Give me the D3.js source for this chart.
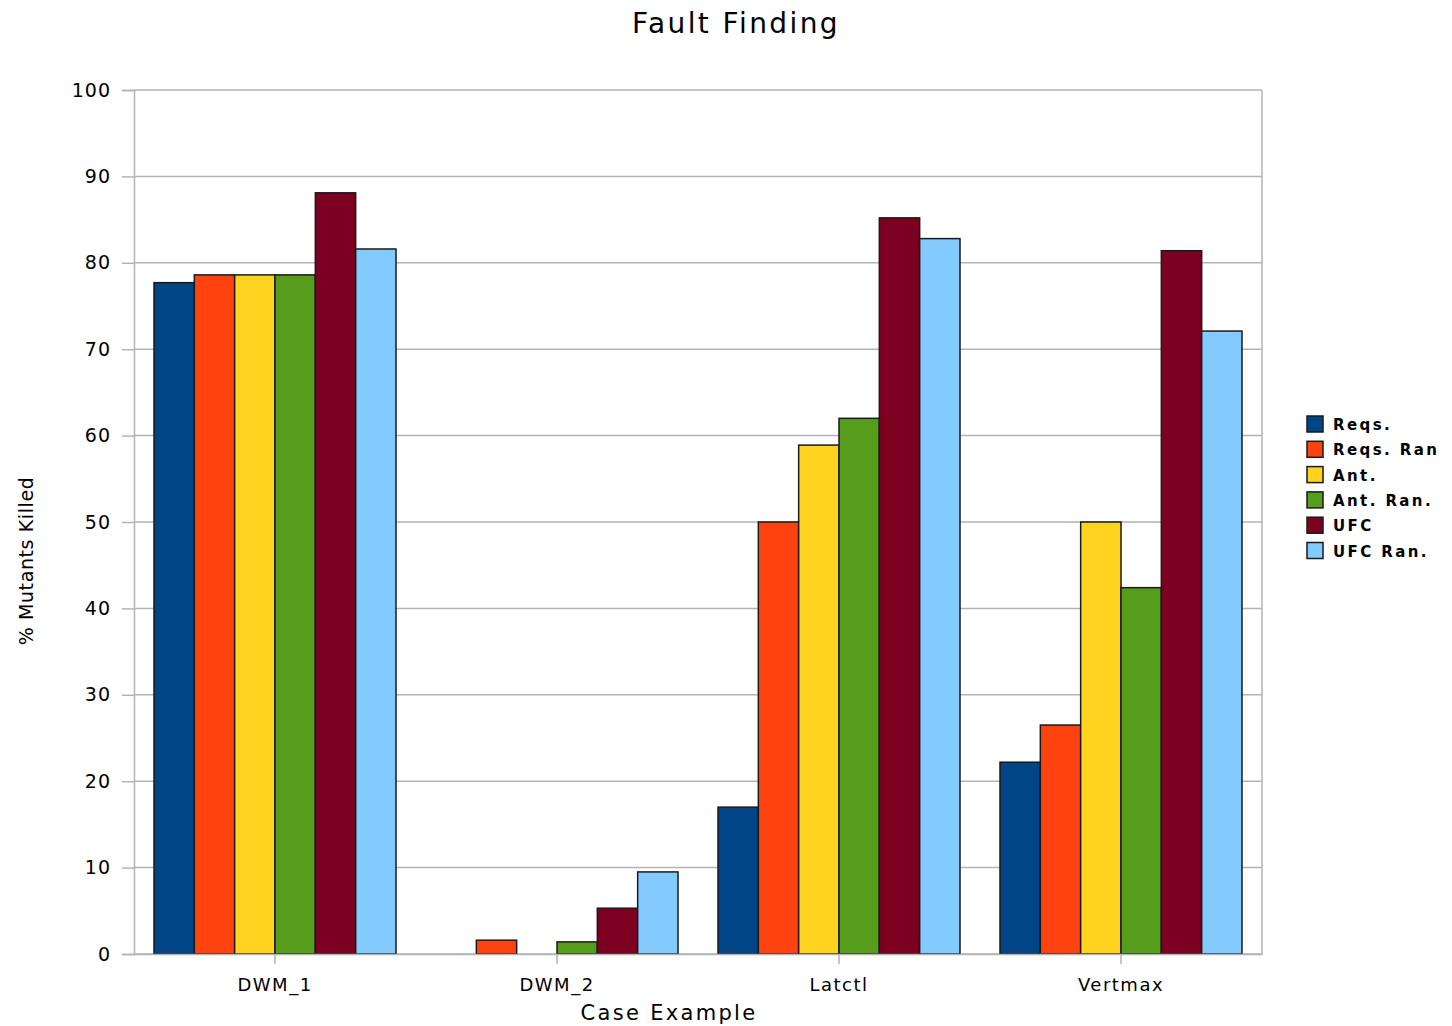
<!DOCTYPE html>
<html>
<head>
<meta charset="utf-8">
<script src="https://cdn.jsdelivr.net/npm/d3@7"></script>
<style>
  html, body { margin: 0; padding: 0; background: #fff; }
  svg { display: block; }
  text { font-family: "DejaVu Sans", Verdana, sans-serif; fill: #000; }
</style>
</head>
<body>
<svg id="chart" width="1452" height="1026"></svg>
<script>
// Case examples along the x axis
const categories = ["DWM_1", "DWM_2", "Latctl", "Vertmax"];
// Test-suite series
const seriesNames = ["Reqs.", "Reqs. Ran", "Ant.", "Ant. Ran.", "UFC", "UFC Ran."];
// % mutants killed, one array per series (same order as categories)
const reqs     = [77.7, 0,   17.0, 22.2];
const reqsRan  = [78.6, 1.6, 50.0, 26.5];
const ant      = [78.6, 0,   58.9, 50.0];
const antRan   = [78.6, 1.4, 62.0, 42.4];
const ufc      = [88.1, 5.3, 85.2, 81.4];
const ufcRan   = [81.6, 9.5, 82.8, 72.1];
const yTicks   = [0, 10, 20, 30, 40, 50, 60, 70, 80, 90, 100];
const colors   = ["#004586", "#ff420e", "#ffd320", "#579d1c", "#7e0021", "#83caff"];

const seriesValues = [reqs, reqsRan, ant, antRan, ufc, ufcRan];
const rows = categories.map((c, i) => ({
  category: c,
  values: seriesNames.map((s, k) => ({ series: s, value: seriesValues[k][i], color: colors[k] }))
}));

const svg = d3.select("#chart");
const plot = { left: 134, top: 90, right: 1262, bottom: 954 };

const x = d3.scaleBand().domain(categories).range([plot.left, plot.right]).paddingInner(0).paddingOuter(0);
const inner = d3.scaleBand().domain(seriesNames).range([20, x.bandwidth() - 20]).padding(0);
const y = d3.scaleLinear().domain([0, 100]).range([plot.bottom, plot.top]);

// Horizontal gridlines
svg.append("g")
  .selectAll("line")
  .data(yTicks)
  .join("line")
  .attr("x1", plot.left).attr("x2", plot.right)
  .attr("y1", d => y(d)).attr("y2", d => y(d))
  .attr("stroke", "#b3b3b3").attr("stroke-width", 1.5);

// Right frame edge
svg.append("line")
  .attr("x1", plot.right).attr("x2", plot.right)
  .attr("y1", plot.top).attr("y2", plot.bottom)
  .attr("stroke", "#b3b3b3").attr("stroke-width", 1.5);

// Bars
const groups = svg.append("g")
  .selectAll("g")
  .data(rows)
  .join("g")
  .attr("transform", d => `translate(${x(d.category)},0)`);

groups.selectAll("rect")
  .data(d => d.values.filter(v => v.value > 0))
  .join("rect")
  .attr("x", d => inner(d.series))
  .attr("y", d => y(d.value))
  .attr("width", inner.bandwidth())
  .attr("height", d => y(0) - y(d.value))
  .attr("fill", d => d.color)
  .attr("stroke", "#1a1a1a")
  .attr("stroke-width", 1.5);

// Y axis
const yAxis = svg.append("g")
  .attr("transform", `translate(${plot.left},0)`)
  .call(d3.axisLeft(y).tickValues(yTicks).tickSize(12).tickPadding(11));
yAxis.select(".domain").attr("stroke", "#b3b3b3").attr("stroke-width", 1.5);
yAxis.selectAll(".tick line").attr("stroke", "#b3b3b3").attr("stroke-width", 1.5);
yAxis.selectAll(".tick text")
  .style("font-family", "'DejaVu Sans', Verdana, sans-serif")
  .style("font-size", "19px")
  .style("letter-spacing", "1px")
  .attr("fill", "#000");

// X axis
const xAxis = svg.append("g")
  .attr("transform", `translate(0,${plot.bottom})`)
  .call(d3.axisBottom(x).tickSize(10).tickPadding(14).tickSizeOuter(0));
xAxis.select(".domain").attr("stroke", "#b3b3b3").attr("stroke-width", 1.5);
xAxis.selectAll(".tick line").attr("stroke", "#b3b3b3").attr("stroke-width", 1.5);
xAxis.selectAll(".tick text")
  .style("font-family", "'DejaVu Sans', Verdana, sans-serif")
  .style("font-size", "18px")
  .style("letter-spacing", "1.5px")
  .attr("fill", "#000");

// Title
svg.append("text")
  .attr("x", 736).attr("y", 33)
  .attr("text-anchor", "middle")
  .style("font-size", "28px")
  .style("letter-spacing", "2.4px")
  .text("Fault Finding");

// Axis titles
svg.append("text")
  .attr("x", 669).attr("y", 1020)
  .attr("text-anchor", "middle")
  .style("font-size", "21px")
  .style("letter-spacing", "2.3px")
  .text("Case Example");

svg.append("text")
  .attr("transform", "translate(33,561) rotate(-90)")
  .attr("text-anchor", "middle")
  .style("font-size", "19px")
  .style("letter-spacing", "0.6px")
  .text("% Mutants Killed");

// Legend
const legend = svg.append("g").attr("transform", "translate(1307,416)");
const item = legend.selectAll("g")
  .data(seriesNames)
  .join("g")
  .attr("transform", (d, i) => `translate(0,${i * 25.3})`);
item.append("rect")
  .attr("width", 16).attr("height", 16)
  .attr("fill", (d, i) => colors[i])
  .attr("stroke", "#1a1a1a").attr("stroke-width", 1.5);
item.append("text")
  .attr("x", 26).attr("y", 14)
  .style("font-size", "15px")
  .style("font-weight", "bold")
  .style("letter-spacing", "2.4px")
  .text(d => d);
</script>
</body>
</html>
